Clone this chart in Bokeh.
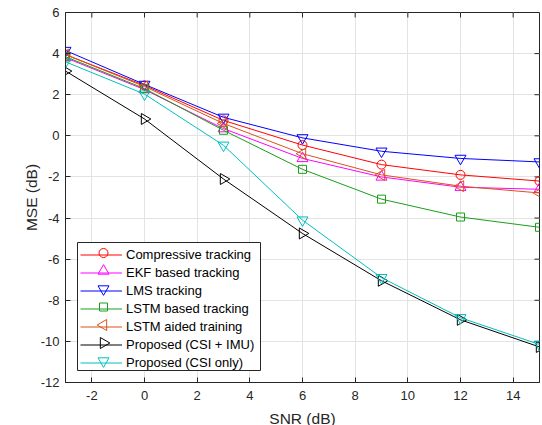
import math
from bokeh.plotting import figure
from bokeh.models import FixedTicker, Legend, LegendItem, Range1d
from bokeh.embed import file_html
from bokeh.resources import INLINE

snr = [-3, 0, 3, 6, 9, 12, 15]
compressive = [3.95, 2.45, 0.75, -0.45, -1.4, -1.9, -2.2]
ekf = [3.8, 2.25, 0.35, -1.1, -2.0, -2.5, -2.6]
lms = [4.15, 2.5, 0.9, -0.1, -0.75, -1.1, -1.27]
lstm_based = [3.85, 2.3, 0.27, -1.63, -3.08, -3.95, -4.45]
lstm_aided = [3.95, 2.4, 0.6, -0.87, -1.9, -2.45, -2.78]
csi_imu = [3.15, 0.82, -2.1, -4.75, -7.05, -8.95, -10.27]
csi_only = [3.6, 2.03, -0.46, -4.1, -6.9, -8.85, -10.15]

x_ticks = [-2, 0, 2, 4, 6, 8, 10, 12, 14]
y_ticks = [-12, -10, -8, -6, -4, -2, 0, 2, 4, 6]

FONT = "Liberation Sans"
AX = "#262626"
FW, FH = 474, 370
TICK = 5

p = figure(frame_width=FW, frame_height=FH, x_range=(-3, 15), y_range=(-12, 6),
           output_backend="svg", toolbar_location=None,
           min_border_left=65, min_border_right=2, min_border_top=12, min_border_bottom=43)
p.extra_x_ranges = {"px": Range1d(0, FW)}
p.extra_y_ranges = {"px": Range1d(0, FH)}
p.outline_line_color = AX
p.outline_line_width = 1
p.background_fill_color = "white"
p.border_fill_color = "white"

for ax, ticks in ((p.xaxis[0], x_ticks), (p.yaxis[0], y_ticks)):
    ax.ticker = FixedTicker(ticks=ticks)
    ax.major_label_overrides = {t: str(t) for t in ticks}
    ax.major_tick_in = TICK
    ax.major_tick_out = 0
    ax.minor_tick_line_color = None
    ax.axis_line_color = AX
    ax.major_tick_line_color = AX
    ax.major_label_text_font = FONT
    ax.major_label_text_font_size = "13px"
    ax.major_label_text_color = AX
    ax.axis_label_text_font = FONT
    ax.axis_label_text_font_size = "15.5px"
    ax.axis_label_text_font_style = "normal"
    ax.axis_label_text_color = AX

p.xaxis[0].axis_label = "SNR (dB)"
p.yaxis[0].axis_label = "MSE (dB)"
p.xaxis[0].major_label_standoff = 8
p.xaxis[0].axis_label_standoff = 7
p.yaxis[0].major_label_standoff = 6
p.yaxis[0].axis_label_standoff = -2

# ticks on the top and right edges of the box
p.segment(x0=x_ticks, x1=x_ticks, y0=[FH] * len(x_ticks), y1=[FH - TICK] * len(x_ticks),
          y_range_name="px", line_color=AX, line_width=1)
p.segment(x0=[FW] * len(y_ticks), x1=[FW - TICK] * len(y_ticks), y0=y_ticks, y1=y_ticks,
          x_range_name="px", line_color=AX, line_width=1)

p.xgrid.ticker = FixedTicker(ticks=x_ticks)
p.ygrid.ticker = FixedTicker(ticks=y_ticks)
p.grid.grid_line_color = "#e3e3e3"
p.grid.grid_line_width = 1

series = [
    ("Compressive tracking", compressive, "#ff0000", "circle", 0.0, 9),
    ("EKF based tracking", ekf, "#ff00ff", "triangle", 0.0, 11),
    ("LMS tracking", lms, "#0000ff", "inverted_triangle", 0.0, 11),
    ("LSTM based tracking", lstm_based, "#1a9e1a", "square", 0.0, 8),
    ("LSTM aided training", lstm_aided, "#d95319", "triangle", math.pi / 2, 11),
    ("Proposed (CSI + IMU)", csi_imu, "#000000", "triangle", -math.pi / 2, 11),
    ("Proposed (CSI only)", csi_only, "#00bfbf", "inverted_triangle", 0.0, 11),
]

data_lines = []
for label, vals, color, marker, ang, size in series:
    r1 = p.line(snr, vals, line_color=color, line_width=1)
    p.scatter(snr, vals, marker=marker, angle=ang, size=size,
              line_color=color, fill_color=None, line_width=1)
    data_lines.append((label, r1))

# legend box (pixel units from the frame's lower-left corner)
BX0, BX1, BY0, BY1 = 12, 195, 12, 140
LX, LY = 15, 11
PAD, GW, GH, SP = 2, 42, 17, 1
n = len(series)
LH = 2 * PAD + n * GH + (n - 1) * SP

p.quad(left=[BX0], right=[BX1], bottom=[BY0], top=[BY1], x_range_name="px", y_range_name="px",
       fill_color="white", line_color=AX, line_width=1)

items = []
for i, ((label, r1), s) in enumerate(zip(data_lines, series)):
    _, _, color, marker, ang, size = s
    items.append(LegendItem(label=label, renderers=[r1]))
    cx = LX + PAD + GW / 2
    cy = LY + LH - PAD - i * (GH + SP) - GH / 2
    p.scatter([cx], [cy], marker=marker, angle=ang, size=size, line_color=color,
              fill_color=None, line_width=1, x_range_name="px", y_range_name="px")

legend = Legend(items=items, location=(LX, LY))
legend.label_text_font = FONT
legend.label_text_font_size = "13px"
legend.label_text_color = "#000000"
legend.glyph_width = GW
legend.glyph_height = GH
legend.label_height = GH
legend.spacing = SP
legend.padding = PAD
legend.margin = 0
legend.label_standoff = 4
legend.border_line_color = None
legend.background_fill_alpha = 0
p.add_layout(legend, "center")

open("out.html", "w").write(file_html(p, INLINE))
